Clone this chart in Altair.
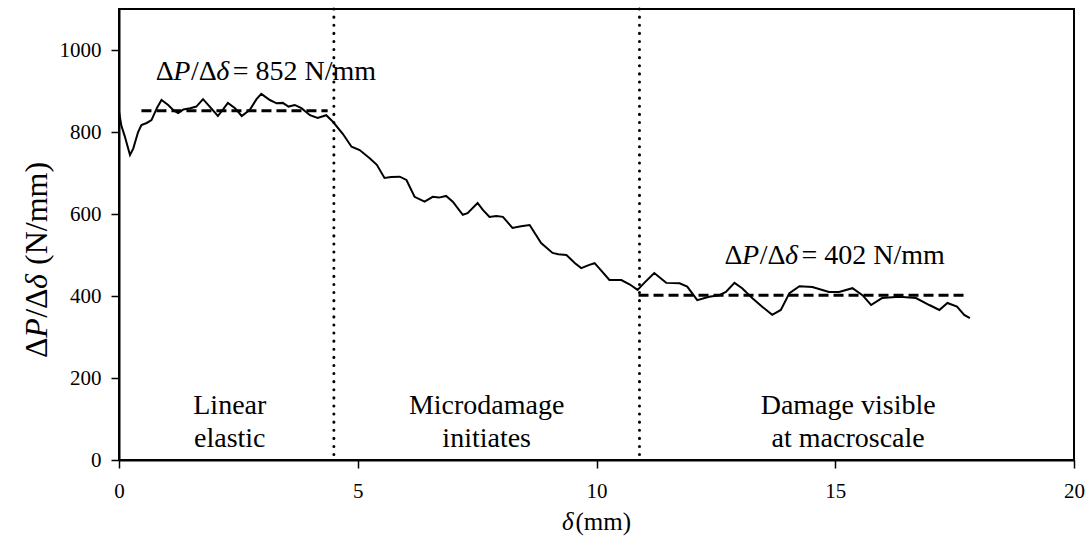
import altair as alt
import pandas as pd

# ---- data ----
delta = [0.00, 0.05, 0.12, 0.23, 0.30, 0.40, 0.47, 0.58, 0.68, 0.80, 0.89, 1.03, 1.15, 1.24,
         1.35, 1.49, 1.62, 1.76, 1.90, 2.07, 2.18, 2.28, 2.43, 2.57, 2.74, 2.88, 2.98, 3.16,
         3.30, 3.43, 3.55, 3.68, 3.82, 4.00, 4.16, 4.34, 4.48, 4.69, 4.87, 5.04, 5.25, 5.40,
         5.56, 5.70, 5.88, 6.02, 6.19, 6.40, 6.57, 6.70, 6.85, 6.99, 7.20, 7.30, 7.51, 7.62,
         7.76, 7.90, 8.04, 8.24, 8.42, 8.60, 8.84, 9.08, 9.20, 9.37, 9.55, 9.68, 9.85, 9.96,
         10.10, 10.27, 10.52, 10.70, 10.86, 11.00, 11.21, 11.46, 11.74, 11.90, 12.11, 12.36,
         12.57, 12.71, 12.89, 13.05, 13.26, 13.47, 13.68, 13.86, 14.04, 14.25, 14.52, 14.87,
         15.08, 15.36, 15.57, 15.75, 15.98, 16.34, 16.69, 16.97, 17.18, 17.35, 17.55, 17.70,
         17.82]
stiffness = [850, 815, 790, 744, 760, 800, 817, 822, 829, 860, 878, 866, 852, 846,
             855, 858, 862, 880, 862, 839, 855, 871, 858, 839, 854, 880, 893, 878,
             870, 871, 862, 866, 858, 841, 834, 841, 825, 795, 764, 756, 736, 720,
             688, 690, 691, 683, 642, 630, 642, 640, 644, 630, 598, 602, 627, 610,
             593, 595, 593, 566, 570, 573, 529, 505, 502, 500, 480, 468, 476, 480,
             462, 439, 439, 428, 415, 432, 456, 432, 431, 423, 390, 398,
             402, 410, 432, 419, 395, 374, 354, 366, 407, 424, 422, 410,
             410, 419, 402, 378, 395, 398, 395, 378, 366, 383, 374, 354,
             346]

fit_start = [0.47, 10.88]
fit_end = [4.37, 17.76]
fit_value = [852, 402]

boundaries = [4.5, 10.9]

region_x = [2.32, 7.7, 15.27]
region_line1 = ["Linear", "Microdamage", "Damage visible"]
region_line2 = ["elastic", "initiates", "at macroscale"]
line_y = [112, 32]

annot_x = [0.77, 12.68]
annot_y = [927, 478]

x_ticks = [0, 5, 10, 15, 20]
y_ticks = [0, 200, 400, 600, 800, 1000]

FONT = "Liberation Serif"
W, H = 955, 451

curve_df = pd.DataFrame({"d": delta, "s": stiffness})

fit_rows = []
for i, (a, b, v) in enumerate(zip(fit_start, fit_end, fit_value)):
    fit_rows.append({"d": a, "s": v, "g": i})
    fit_rows.append({"d": b, "s": v, "g": i})
fit_df = pd.DataFrame(fit_rows)

bound_df = pd.DataFrame({"d": boundaries})

region_rows = []
for x, l1, l2 in zip(region_x, region_line1, region_line2):
    region_rows.append({"d": x, "s": line_y[0], "t": l1})
    region_rows.append({"d": x, "s": line_y[1], "t": l2})
region_df = pd.DataFrame(region_rows)

# annotation pieces: (text or None for value part, italic, offset px)
pieces = [("\u0394", False, 0.0), ("P", True, 17.6), ("/\u0394", False, 35.2), ("\u03b4", True, 60.5),
          (None, False, 77.0)]
annot_rows = []
for x, y, v in zip(annot_x, annot_y, fit_value):
    for k, (t, it, off) in enumerate(pieces):
        annot_rows.append({"d": x, "s": y, "t": t if t else f"= {v} N/mm", "k": k})
annot_df = pd.DataFrame(annot_rows)

xscale = alt.Scale(domain=[0, 20], nice=False, zero=False)
yscale = alt.Scale(domain=[0, 1100], nice=False)

xenc = alt.X("d:Q", scale=xscale, axis=alt.Axis(values=x_ticks, title=None, format="d"))
yenc = alt.Y("s:Q", scale=yscale, axis=alt.Axis(values=y_ticks, title=None, format="d"))

curve = alt.Chart(curve_df).mark_line(color="black", strokeWidth=2).encode(x=xenc, y=yenc)

fits = alt.Chart(fit_df).mark_line(color="black", strokeWidth=3, strokeDash=[10, 5]).encode(
    x="d:Q", y="s:Q", detail="g:N")

bounds = alt.Chart(bound_df).mark_rule(color="black", strokeWidth=3, strokeDash=[0.1, 8],
                                      strokeCap="round").encode(x="d:Q")

regions = alt.Chart(region_df).mark_text(font=FONT, fontSize=28, color="black",
                                         align="center", baseline="alphabetic").encode(
    x="d:Q", y="s:Q", text="t:N")

layers = [curve, fits, bounds, regions]
for k, (t, it, off) in enumerate(pieces):
    sub = annot_df[annot_df["k"] == k]
    layers.append(
        alt.Chart(sub).mark_text(font=FONT, fontSize=28, color="black", align="left",
                                 baseline="alphabetic", dx=off,
                                 fontStyle="italic" if it else "normal").encode(
            x="d:Q", y="s:Q", text="t:N"))

# axis titles with italic symbols, built from text pieces
ytitle_pieces = [("\u0394", False, 0.0), ("P", True, 20.2), ("/\u0394", False, 40.2),
                 ("\u03b4", True, 69.1), ("(N/mm)", False, 93.0)]
for t, it, off in ytitle_pieces:
    layers.append(
        alt.Chart(pd.DataFrame({"t": [t]})).mark_text(
            font=FONT, fontSize=32, color="black", align="left", baseline="middle",
            angle=270, dx=off, fontStyle="italic" if it else "normal").encode(
            x=alt.value(-82), y=alt.value(349), text="t:N"))

xtitle_pieces = [("\u03b4", True, -34.5), ("(mm)", False, -21.0)]
for t, it, off in xtitle_pieces:
    layers.append(
        alt.Chart(pd.DataFrame({"t": [t]})).mark_text(
            font=FONT, fontSize=25, color="black", align="left", baseline="alphabetic",
            dx=off, fontStyle="italic" if it else "normal").encode(
            x=alt.value(W / 2), y=alt.value(H + 70), text="t:N"))

chart = alt.layer(*layers).properties(
    width=W, height=H,
    autosize=alt.AutoSizeParams(type="none"),
    padding={"left": 119, "top": 9, "right": 11, "bottom": 83},
).configure_view(
    stroke="black", strokeWidth=2
).configure_axis(
    grid=False, domainColor="black", domainWidth=2, tickColor="black", tickWidth=1.5,
    tickSize=8, labelColor="black", labelFont=FONT, labelFontSize=21, labelFlush=False,
).configure_axisX(labelPadding=12).configure_axisY(labelPadding=10)

chart.save("out.html", embed_options={"renderer": "svg", "actions": False})
